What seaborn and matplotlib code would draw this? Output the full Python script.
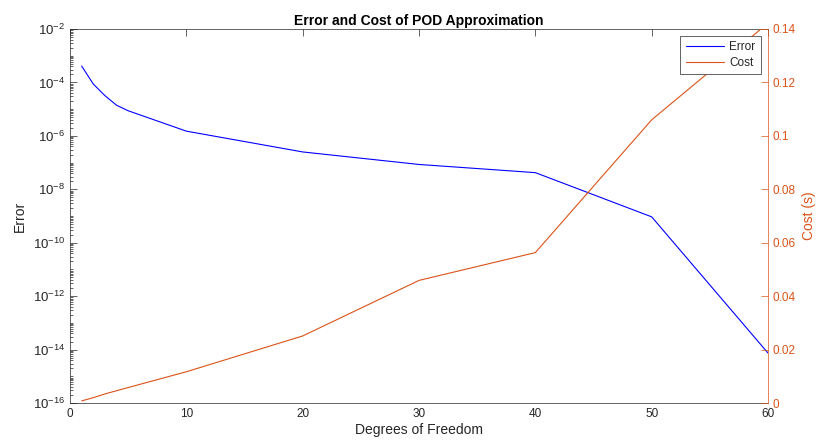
import numpy as np
import pandas as pd
import matplotlib
matplotlib.use("Agg")
import matplotlib.pyplot as plt
from matplotlib.ticker import FixedLocator, NullFormatter
import seaborn as sns

# Werte
dof = [1, 2, 3, 4, 5, 10, 20, 30, 40, 50, 60]
error_vals = [4.1e-4, 8.7e-5, 3.2e-5, 1.4e-5, 8.7e-6, 1.5e-6, 2.5e-7, 8.5e-8, 4.2e-8, 9.3e-10, 7.4e-15]
cost_vals = [0.0008, 0.0020, 0.0034, 0.0046, 0.0058, 0.0117, 0.0251, 0.0459, 0.0563, 0.1060, 0.1422]

y_exp = [-2, -4, -6, -8, -10, -12, -14, -16]
cost_ticks = [0, 0.02, 0.04, 0.06, 0.08, 0.1, 0.12, 0.14]
cost_labels = ["0", "0.02", "0.04", "0.06", "0.08", "0.1", "0.12", "0.14"]

df = pd.DataFrame({"dof": dof, "Error": error_vals, "Cost": cost_vals})

sns.set_style("white")
plt.rcParams["font.family"] = ["Liberation Sans", "DejaVu Sans"]
plt.rcParams["mathtext.fontset"] = "custom"
plt.rcParams["mathtext.rm"] = "Liberation Sans"
plt.rcParams["mathtext.it"] = "Liberation Sans"

blue = "#0000ff"
orange = "#d95319"
axc = "#262626"

fig = plt.figure(figsize=(8.2, 4.42), dpi=100)
ax = fig.add_axes([0.0854, 0.0882, 0.8512, 0.8462])
ax2 = ax.twinx()

sns.lineplot(data=df, x="dof", y="Error", ax=ax, color=blue, linewidth=0.8, label="Error", legend=False)
sns.lineplot(data=df, x="dof", y="Cost", ax=ax2, color=orange, linewidth=0.8, label="Cost", legend=False)

ax.set_yscale("log")
ax.set_xlim(0, 60)
ax.set_ylim(1e-16, 1e-2)
ax2.set_ylim(0, 0.14)

ax.yaxis.set_major_locator(FixedLocator([10.0 ** e for e in y_exp]))
ax.set_yticklabels([f"$10^{{{e}}}$" for e in y_exp])
minor_pos = [m * 10.0 ** d for d in range(-16, -2) for m in range(1, 10)]
ax.yaxis.set_minor_locator(FixedLocator(minor_pos))
ax.yaxis.set_minor_formatter(NullFormatter())
ax.set_xticks(range(0, 61, 10))

ax2.set_yticks(cost_ticks)
ax2.set_yticklabels(cost_labels)

ax.tick_params(axis="both", which="both", direction="in", colors=axc, labelsize=8.5,
               top=True, right=False, width=0.5)
ax.tick_params(axis="y", which="major", labelsize=9.5)
ax.tick_params(axis="both", which="major", length=5)
ax.tick_params(axis="y", which="minor", length=2.5, left=True)
ax2.tick_params(axis="y", direction="in", colors=orange, labelsize=8.5, length=5, width=0.5)

for s in ["left", "bottom", "top"]:
    ax.spines[s].set_color(axc)
    ax.spines[s].set_linewidth(0.5)
for s in ["left", "bottom", "top"]:
    ax2.spines[s].set_visible(False)
ax2.spines["right"].set_color(orange)
ax2.spines["right"].set_linewidth(0.5)
ax.spines["right"].set_visible(False)

ax.set_xlabel("Degrees of Freedom", fontsize=10, color=axc, labelpad=2)
ax.set_ylabel("Error", fontsize=10, color=axc, labelpad=4)
ax2.set_ylabel("Cost (s)", fontsize=10, color=orange, labelpad=4)
ax.set_title("Error and Cost of POD Approximation", fontsize=10, fontweight="bold", color="black", pad=3)

h1, l1 = ax.get_legend_handles_labels()
h2, l2 = ax2.get_legend_handles_labels()
leg = ax2.legend(h1 + h2, l1 + l2, loc="upper right", fontsize=8.5, frameon=True,
                 fancybox=False, edgecolor=axc, framealpha=1.0, borderpad=0.45,
                 handlelength=3.2, labelspacing=0.3, borderaxespad=0.6, handletextpad=0.5)
leg.get_frame().set_linewidth(0.5)
leg.set_zorder(10)

fig.savefig("out.png", dpi=100)
